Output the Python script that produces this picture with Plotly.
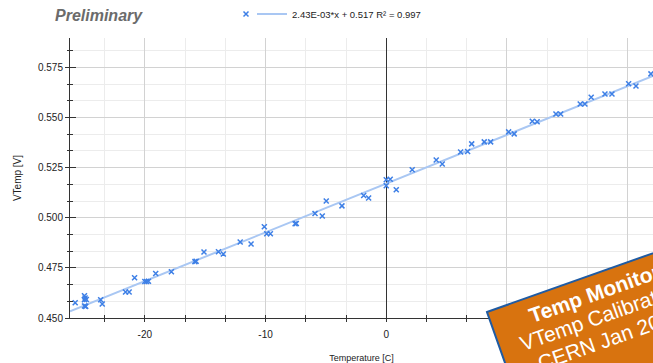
import numpy as np
import plotly.graph_objects as go

# ---------------- data ----------------
TEMP_C = [
    -25.77, -25.0, -24.95, -25.0, -24.85, -25.0, -24.9, -23.66, -23.53,
    -21.6, -21.3, -20.85, -20.0, -19.85, -19.7, -19.1, -17.8,
    -15.85, -15.75, -15.1, -13.9, -13.5, -12.1, -11.2, -10.1, -9.9, -9.6,
    -7.55, -7.45, -5.9, -5.3, -4.97, -3.67, -1.87, -1.46,
    0.0, 0.33, 0.0, 0.83, 2.15, 4.14, 4.64, 6.16, 6.74, 7.08, 8.12, 8.65,
    10.14, 10.6, 12.1, 12.5, 14.06, 14.45, 16.07, 16.46, 16.98, 18.12, 18.7,
    20.08, 20.69, 21.93,
]
VTEMP_V = [
    0.4576, 0.4611, 0.4600, 0.4591, 0.4592, 0.4560, 0.4558, 0.4591, 0.4570,
    0.4630, 0.4630, 0.4701, 0.4682, 0.4682, 0.4683, 0.4722, 0.4731,
    0.4781, 0.4783, 0.4829, 0.4830, 0.4819, 0.4879, 0.4869, 0.4955, 0.4920, 0.4920,
    0.4970, 0.4971, 0.5021, 0.5009, 0.5083, 0.5059, 0.5111, 0.5098,
    0.5189, 0.5192, 0.5159, 0.5139, 0.5239, 0.5288, 0.5268, 0.5328, 0.5330, 0.5368, 0.5378, 0.5378,
    0.5428, 0.5418, 0.5481, 0.5478, 0.5517, 0.5517, 0.5567, 0.5567, 0.5601, 0.5617, 0.5617,
    0.5668, 0.5657, 0.5717,
]
FIT_SLOPE = 2.43e-3
FIT_INTERCEPT = 0.517
FIT_LABEL = "2.43E-03*x + 0.517 R² = 0.997"

X_TICK_VALUES = [-20, -10, 0, 10, 20]
X_TICK_LABELS = ["-20", "-10", "0", "10", "20"]
Y_TICK_VALUES = [0.450, 0.475, 0.500, 0.525, 0.550, 0.575]
Y_TICK_LABELS = ["0.450", "0.475", "0.500", "0.525", "0.550", "0.575"]
X_RANGE = [-26.2, 22.1]
Y_RANGE = [0.45, 0.5896]

TITLE = "Preliminary"
X_TITLE = "Temperature [C]"
Y_TITLE = "VTemp [V]"
STAMP_LINES = ["<b>Temp Monitor</b>", "VTemp Calibration", "CERN Jan 2019"]

# ---------------- layout geometry ----------------
W, H = 653, 363
ML, MR, MT, MB = 70, 0, 38, 45
PW, PH = W - ML - MR, H - MT - MB
FONT = "Liberation Sans, Arial, Helvetica, sans-serif"
AXIS = "#333333"
GRID_MAJOR = "#d2d2d2"
GRID_MINOR = "#ececec"
MARKER_BLUE = "#3d7fe6"
LINE_BLUE = "#a9c7f3"

x_minor = X_TICK_VALUES[1] - X_TICK_VALUES[0]
y_minor = Y_TICK_VALUES[1] - Y_TICK_VALUES[0]

fig = go.Figure()

fit_x = np.array(X_RANGE)
fig.add_trace(go.Scatter(
    x=fit_x, y=FIT_SLOPE * fit_x + FIT_INTERCEPT, mode="lines",
    line=dict(color=LINE_BLUE, width=2), name=FIT_LABEL, legend="legend2",
    hoverinfo="skip",
))
fig.add_trace(go.Scatter(
    x=TEMP_C, y=VTEMP_V, mode="markers", name="", legend="legend",
    marker=dict(symbol="x-thin", size=5, color=MARKER_BLUE,
                line=dict(color=MARKER_BLUE, width=1.5)),
))
# empty trace so the overlaid tick-only axes exist
fig.add_trace(go.Scatter(x=[], y=[], xaxis="x2", yaxis="y2",
                         showlegend=False, hoverinfo="skip"))

common_font = dict(family=FONT, size=10, color="#222222")

fig.update_layout(
    width=W, height=H,
    margin=dict(l=ML, r=MR, t=MT, b=MB, pad=0),
    paper_bgcolor="white", plot_bgcolor="white",
    font=common_font,
    showlegend=True,
    hovermode=False,
    title=dict(text=TITLE, xref="container", yref="container",
               x=55 / W, y=1 - 15 / H, xanchor="left", yanchor="middle",
               font=dict(family=FONT, size=16, color="#6b6b6b",
                         weight="bold", style="italic")),
    xaxis=dict(
        range=X_RANGE, tickmode="array", tickvals=X_TICK_VALUES, ticktext=X_TICK_LABELS,
        ticks="outside", ticklen=3, tickcolor=AXIS, tickwidth=1, ticklabelstandoff=4,
        showgrid=True, gridcolor=GRID_MAJOR, gridwidth=1,
        zeroline=True, zerolinecolor=AXIS, zerolinewidth=1,
        showline=True, linecolor=AXIS, linewidth=1,
        minor=dict(tickmode="linear", tick0=0, dtick=x_minor / 3, ticks="outside",
                   ticklen=3, tickcolor=AXIS, showgrid=True, gridcolor=GRID_MINOR),
        tickfont=common_font,
        title=dict(text=X_TITLE, font=dict(family=FONT, size=9, color="#222222"), standoff=15),
    ),
    yaxis=dict(
        range=Y_RANGE, tickmode="array", tickvals=Y_TICK_VALUES, ticktext=Y_TICK_LABELS,
        ticks="outside", ticklen=4, tickcolor=AXIS, tickwidth=1,
        showgrid=True, gridcolor=GRID_MAJOR, gridwidth=1,
        zeroline=False, showline=True, linecolor=AXIS, linewidth=1,
        minor=dict(tickmode="linear", tick0=Y_TICK_VALUES[0], dtick=y_minor / 3, ticks="outside",
                   ticklen=2, tickcolor=AXIS, showgrid=True, gridcolor=GRID_MINOR),
        tickfont=common_font,
        title=dict(text=Y_TITLE, font=dict(family=FONT, size=10, color="#222222"), standoff=14),
    ),
    xaxis2=dict(
        overlaying="x", anchor="y", side="bottom", range=X_RANGE,
        tickmode="array", tickvals=X_TICK_VALUES, ticks="inside", ticklen=3,
        tickcolor=AXIS, showticklabels=False, showgrid=False, zeroline=False, showline=False,
        minor=dict(tickmode="linear", tick0=0, dtick=x_minor / 3, ticks="inside",
                   ticklen=3, tickcolor=AXIS, showgrid=False),
    ),
    yaxis2=dict(
        overlaying="y", anchor="x", side="left", range=Y_RANGE,
        tickmode="array", tickvals=Y_TICK_VALUES, ticks="inside", ticklen=6,
        tickcolor=AXIS, showticklabels=False, showgrid=False, zeroline=False, showline=False,
        minor=dict(tickmode="linear", tick0=Y_TICK_VALUES[0], dtick=y_minor / 3, ticks="inside",
                   ticklen=3, tickcolor=AXIS, showgrid=False),
    ),
    legend=dict(orientation="h", xref="container", yref="container",
                x=226 / W, y=1 - 14 / H, xanchor="left", yanchor="middle",
                bgcolor="rgba(0,0,0,0)", font=dict(family=FONT, size=9.5, color="#222222")),
    legend2=dict(orientation="h", xref="container", yref="container",
                 x=252 / W, y=1 - 14 / H, xanchor="left", yanchor="middle",
                 bgcolor="rgba(0,0,0,0)", font=dict(family=FONT, size=9.5, color="#222222")),
)

# ---------------- rotated "stamp" overlay ----------------
ang_deg = 19.5
ang = np.deg2rad(ang_deg)
u_dir = np.array([np.cos(ang), -np.sin(ang)])   # along the text baseline
v_dir = np.array([np.sin(ang), np.cos(ang)])    # down, across the lines
corner = np.array([487.0, 312.0])               # top-left corner of the stamp (px)
box_w, box_h = 214, 150


def px_to_paper(p):
    return (p[0] - ML) / PW, (H - MB - p[1]) / PH


pts = [corner, corner + u_dir * box_w, corner + u_dir * box_w + v_dir * box_h,
       corner + v_dir * box_h]
path = "M " + " L ".join("%.5f,%.5f" % px_to_paper(p) for p in pts) + " Z"
fig.add_shape(type="path", path=path, xref="paper", yref="paper", layer="above",
              fillcolor="#d8730f", line=dict(color="#1f5ba3", width=2))

line_centres_v = [18.5, 42.0, 65.5]
for txt, vc in zip(STAMP_LINES, line_centres_v):
    cx, cy = px_to_paper(corner + u_dir * (box_w / 2) + v_dir * vc)
    fig.add_annotation(
        xref="paper", yref="paper", x=cx, y=cy, xanchor="center", yanchor="middle",
        showarrow=False, textangle=-ang_deg, text=txt,
        font=dict(family=FONT, size=21, color="white"),
    )

fig.write_html("out.html")
